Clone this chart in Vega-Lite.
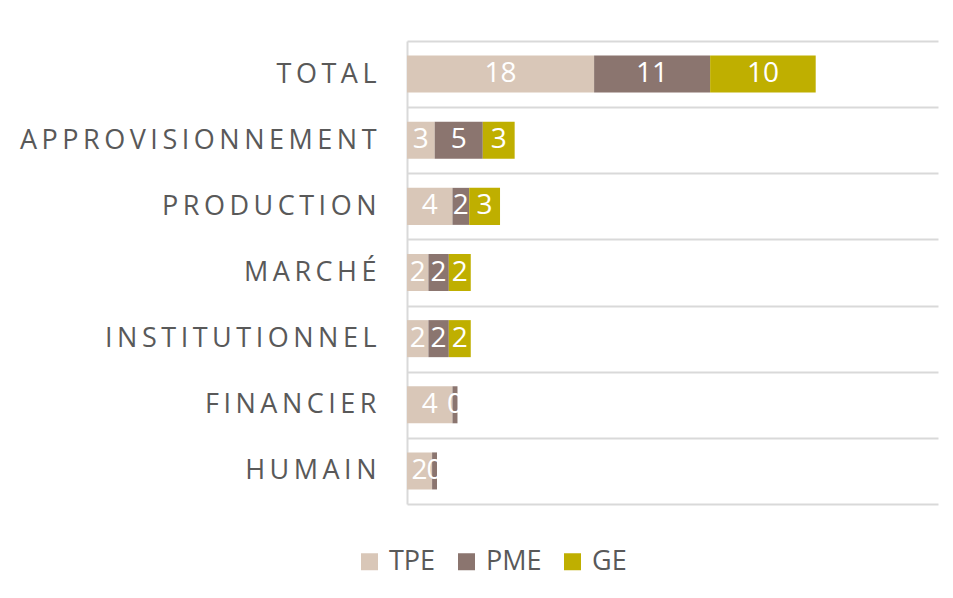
{
  "$schema": "https://vega.github.io/schema/vega-lite/v6.json",
  "width": 531,
  "height": 463,
  "autosize": {"type": "none"},
  "padding": {"left": 407, "top": 41, "right": 15, "bottom": 94},
  "background": "white",
  "config": {"view": {"stroke": null}, "font": "Open Sans"},
  "data": {
    "values": [
      {"cat": "TOTAL", "series": "TPE", "value": 17.9},
      {"cat": "TOTAL", "series": "PME", "value": 11.1},
      {"cat": "TOTAL", "series": "GE", "value": 10.1},
      {"cat": "APPROVISIONNEMENT", "series": "TPE", "value": 2.65},
      {"cat": "APPROVISIONNEMENT", "series": "PME", "value": 4.6},
      {"cat": "APPROVISIONNEMENT", "series": "GE", "value": 3.05},
      {"cat": "PRODUCTION", "series": "TPE", "value": 4.35},
      {"cat": "PRODUCTION", "series": "PME", "value": 1.6},
      {"cat": "PRODUCTION", "series": "GE", "value": 2.95},
      {"cat": "MARCHÉ", "series": "TPE", "value": 2.05},
      {"cat": "MARCHÉ", "series": "PME", "value": 1.95},
      {"cat": "MARCHÉ", "series": "GE", "value": 2.1},
      {"cat": "INSTITUTIONNEL", "series": "TPE", "value": 2.05},
      {"cat": "INSTITUTIONNEL", "series": "PME", "value": 1.95},
      {"cat": "INSTITUTIONNEL", "series": "GE", "value": 2.1},
      {"cat": "FINANCIER", "series": "TPE", "value": 4.35},
      {"cat": "FINANCIER", "series": "PME", "value": 0.48},
      {"cat": "FINANCIER", "series": "GE", "value": 0},
      {"cat": "HUMAIN", "series": "TPE", "value": 2.4},
      {"cat": "HUMAIN", "series": "PME", "value": 0.47},
      {"cat": "HUMAIN", "series": "GE", "value": 0}
    ]
  },
  "encoding": {
    "y": {
      "field": "cat",
      "type": "nominal",
      "sort": ["TOTAL", "APPROVISIONNEMENT", "PRODUCTION", "MARCHÉ", "INSTITUTIONNEL", "FINANCIER", "HUMAIN"],
      "scale": {"paddingInner": 0, "paddingOuter": 0},
      "axis": {
        "title": null,
        "ticks": false,
        "tickBand": "extent",
        "grid": true,
        "gridColor": "#d9d9d9",
        "gridWidth": 2,
        "domainColor": "#d9d9d9",
        "domainWidth": 2,
        "labelPadding": 31,
        "labelLimit": 0,
        "labelFontSize": 27,
        "labelColor": "#595959",
        "labelFont": "Open Sans",
        "labelExpr": "join(split(datum.label, ''), '\u2006')"
      }
    }
  },
  "layer": [
    {
      "mark": {"type": "bar", "height": {"band": 0.56}},
      "encoding": {
        "x": {"field": "value", "type": "quantitative", "stack": "zero", "scale": {"domain": [0, 50.8], "nice": false, "zero": true}, "axis": null},
        "order": {"field": "series", "sort": "descending"},
        "color": {
          "field": "series",
          "type": "nominal",
          "scale": {"domain": ["TPE", "PME", "GE"], "range": ["#D9C7B8", "#8B756F", "#BFAF00"]},
          "legend": {
            "orient": "none",
            "legendX": -51,
            "legendY": 507,
            "direction": "horizontal",
            "title": null,
            "symbolType": "square",
            "symbolSize": 289,
            "symbolStrokeWidth": 0,
            "labelFontSize": 27,
            "labelColor": "#595959",
            "labelFont": "Open Sans",
            "columnPadding": 17,
            "labelOffset": 6
          }
        }
      }
    },
    {
      "transform": [{"filter": "datum.value > 0"}],
      "mark": {"type": "text", "color": "white", "font": "Open Sans", "fontSize": 28, "baseline": "middle", "align": "center"},
      "encoding": {
        "x": {"field": "value", "type": "quantitative", "stack": "zero", "bandPosition": 0.5},
        "detail": {"field": "series"},
        "order": {"field": "series", "sort": "descending"},
        "text": {"field": "value", "type": "quantitative", "format": ".0f"}
      }
    }
  ]
}
